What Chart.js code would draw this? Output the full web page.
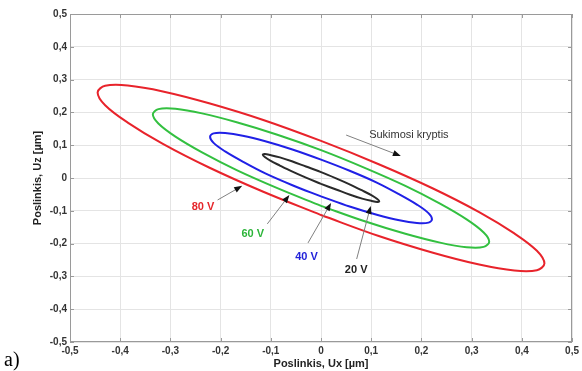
<!DOCTYPE html>
<html><head><meta charset="utf-8">
<script src="https://cdn.jsdelivr.net/npm/chart.js@4/dist/chart.umd.min.js"></script>
<style>html,body{margin:0;padding:0;background:#fff;}#wrap{width:582px;height:371px;position:relative;}</style>
</head><body><div id="wrap"><canvas id="c" width="582" height="371"></canvas></div>
<script>
// ---- data ----
const xTicks = [-0.5,-0.4,-0.3,-0.2,-0.1,0,0.1,0.2,0.3,0.4,0.5];
const xTickLabels = ['-0,5','-0,4','-0,3','-0,2','-0,1','0','0,1','0,2','0,3','0,4','0,5'];
const yTicks = [-0.5,-0.4,-0.3,-0.2,-0.1,0,0.1,0.2,0.3,0.4,0.5];
const yTickLabels = ['-0,5','-0,4','-0,3','-0,2','-0,1','0','0,1','0,2','0,3','0,4','0,5'];
const seriesNames = ['80 V','60 V','40 V','20 V'];

const redX = [0,-0.115,-0.223,-0.315,-0.385,-0.430,-0.445,-0.430,-0.385,-0.315,-0.223,-0.115,0,0.115,0.223,0.315,0.385,0.430,0.445,0.430,0.385,0.315,0.223,0.115,0];
const redY = [-0.113,-0.042,0.032,0.104,0.169,0.222,0.261,0.281,0.282,0.264,0.228,0.177,0.113,0.042,-0.032,-0.104,-0.169,-0.222,-0.261,-0.281,-0.282,-0.264,-0.228,-0.177,-0.113];
const greenX = [0,-0.087,-0.168,-0.237,-0.290,-0.324,-0.335,-0.324,-0.290,-0.237,-0.168,-0.087,0,0.087,0.168,0.237,0.290,0.324,0.335,0.324,0.290,0.237,0.168,0.087,0];
const greenY = [-0.085,-0.031,0.024,0.078,0.126,0.166,0.194,0.210,0.211,0.197,0.170,0.132,0.085,0.031,-0.024,-0.078,-0.126,-0.166,-0.194,-0.210,-0.211,-0.197,-0.170,-0.132,-0.085];
const blueX = [0,-0.057,-0.111,-0.156,-0.191,-0.214,-0.221,-0.214,-0.191,-0.156,-0.111,-0.057,0,0.057,0.111,0.156,0.191,0.214,0.221,0.214,0.191,0.156,0.111,0.057,0];
const blueY = [-0.056,-0.022,0.014,0.050,0.081,0.107,0.126,0.136,0.137,0.129,0.112,0.087,0.056,0.022,-0.014,-0.050,-0.081,-0.107,-0.126,-0.136,-0.137,-0.129,-0.112,-0.087,-0.056];
const blackX = [0,-0.030,-0.058,-0.082,-0.101,-0.112,-0.116,-0.112,-0.101,-0.082,-0.058,-0.030,0,0.030,0.058,0.082,0.101,0.112,0.116,0.112,0.101,0.082,0.058,0.030,0];
const blackY = [-0.018,0.001,0.020,0.038,0.053,0.064,0.071,0.073,0.070,0.063,0.051,0.035,0.018,-0.001,-0.020,-0.038,-0.053,-0.064,-0.071,-0.073,-0.070,-0.063,-0.051,-0.035,-0.018];

// callouts (data coordinates)
const calloutText = ['80 V','60 V','40 V','20 V'];
const calloutX = [-0.235,-0.136,-0.029,0.070];
const calloutY = [-0.088,-0.171,-0.241,-0.280];
const arrowFromX = [-0.206,-0.107,-0.026,0.071];
const arrowFromY = [-0.067,-0.140,-0.198,-0.247];
const arrowToX = [-0.157,-0.063,0.020,0.099];
const arrowToY = [-0.024,-0.052,-0.076,-0.085];
const dirText = 'Sukimosi kryptis';
const dirTextX = 0.175, dirTextY = 0.131;
const dirFromX = 0.050, dirFromY = 0.131, dirToX = 0.159, dirToY = 0.067;

const colors = ['#e8232b','#33c040','#2020e6','#2a2a2a'];
const labelColors = ['#e5262b','#2db53a','#2323d9','#222222'];

const toPts = (xs, ys) => xs.map((v, i) => ({x: v, y: ys[i]}));
const seriesData = [toPts(redX, redY), toPts(greenX, greenY), toPts(blueX, blueY), toPts(blackX, blackY)];

const FONT = "'Liberation Sans', Arial, sans-serif";

function arrow(ctx, x1, y1, x2, y2) {
  ctx.strokeStyle = '#808080'; ctx.lineWidth = 1;
  const ang = Math.atan2(y2 - y1, x2 - x1);
  const L = 8, W = 3;
  ctx.beginPath(); ctx.moveTo(x1, y1); ctx.lineTo(x2 - Math.cos(ang) * L * 0.7, y2 - Math.sin(ang) * L * 0.7); ctx.stroke();
  ctx.fillStyle = '#111';
  ctx.beginPath();
  ctx.moveTo(x2, y2);
  ctx.lineTo(x2 - Math.cos(ang) * L - Math.sin(ang) * W, y2 - Math.sin(ang) * L + Math.cos(ang) * W);
  ctx.lineTo(x2 - Math.cos(ang) * L + Math.sin(ang) * W, y2 - Math.sin(ang) * L - Math.cos(ang) * W);
  ctx.closePath(); ctx.fill();
}

const annot = {
  id: 'annot',
  afterDatasetsDraw(chart) {
    const {ctx, chartArea: a, scales: {x, y}} = chart;
    ctx.save();
    ctx.strokeStyle = '#9a9a9a'; ctx.lineWidth = 1;
    ctx.strokeRect(Math.round(a.left) + 0.5, Math.round(a.top) + 0.5, Math.round(a.right - a.left) - 1, Math.round(a.bottom - a.top) - 1);
    ctx.beginPath();
    xTicks.forEach(v => {
      const px = Math.round(x.getPixelForValue(v)) + 0.5;
      ctx.moveTo(px, a.top); ctx.lineTo(px, a.top + 4);
      ctx.moveTo(px, a.bottom); ctx.lineTo(px, a.bottom - 4);
    });
    yTicks.forEach(v => {
      const py = Math.round(y.getPixelForValue(v)) + 0.5;
      ctx.moveTo(a.left, py); ctx.lineTo(a.left + 4, py);
      ctx.moveTo(a.right, py); ctx.lineTo(a.right - 4, py);
    });
    ctx.stroke();
    // callouts
    for (let i = 0; i < calloutText.length; i++) {
      arrow(ctx, x.getPixelForValue(arrowFromX[i]), y.getPixelForValue(arrowFromY[i]), x.getPixelForValue(arrowToX[i]), y.getPixelForValue(arrowToY[i]));
      ctx.fillStyle = labelColors[i];
      ctx.font = 'bold 11px ' + FONT;
      ctx.textAlign = 'center'; ctx.textBaseline = 'middle';
      ctx.fillText(calloutText[i], x.getPixelForValue(calloutX[i]), y.getPixelForValue(calloutY[i]));
    }
    arrow(ctx, x.getPixelForValue(dirFromX), y.getPixelForValue(dirFromY), x.getPixelForValue(dirToX), y.getPixelForValue(dirToY));
    ctx.fillStyle = '#333';
    ctx.font = '11px ' + FONT;
    ctx.textAlign = 'center'; ctx.textBaseline = 'middle';
    ctx.fillText(dirText, x.getPixelForValue(dirTextX), y.getPixelForValue(dirTextY));
    // panel label
    ctx.fillStyle = '#000';
    ctx.font = "20px 'Liberation Serif', 'Times New Roman', serif";
    ctx.textAlign = 'left'; ctx.textBaseline = 'alphabetic';
    ctx.fillText('a)', 4, 366);
    ctx.restore();
  }
};

new Chart(document.getElementById('c'), {
  type: 'scatter',
  data: {
    datasets: seriesData.map((d, i) => ({
      label: seriesNames[i], data: d, showLine: true, borderColor: colors[i], backgroundColor: colors[i],
      borderWidth: 2, pointRadius: 0, tension: 0.35, fill: false
    }))
  },
  options: {
    responsive: false, animation: false, devicePixelRatio: 1,
    layout: {padding: {left: 31, right: 8, top: 14, bottom: 0}},
    plugins: {legend: {display: false}, tooltip: {enabled: false}},
    scales: {
      x: {
        type: 'linear', min: -0.5, max: 0.5,
        afterBuildTicks: s => { s.ticks = xTicks.map(v => ({value: v})); },
        afterFit: s => { s.height = 29; },
        ticks: {callback: (v, i) => xTickLabels[i], font: {family: FONT, size: 10, weight: 'bold'}, color: '#333', padding: 3, maxRotation: 0, autoSkip: false},
        grid: {color: '#e4e4e4', drawTicks: false},
        border: {display: false},
        title: {display: true, text: 'Poslinkis, Ux [µm]', font: {family: FONT, size: 11, weight: 'bold'}, color: '#222', padding: {top: 0, bottom: 0}}
      },
      y: {
        type: 'linear', min: -0.5, max: 0.5,
        afterBuildTicks: s => { s.ticks = yTicks.map(v => ({value: v})); },
        afterFit: s => { s.width = 39; },
        ticks: {callback: (v, i) => yTickLabels[i], font: {family: FONT, size: 10, weight: 'bold'}, color: '#333', padding: 3, autoSkip: false},
        grid: {color: '#e4e4e4', drawTicks: false},
        border: {display: false},
        title: {display: true, text: 'Poslinkis, Uz [µm]', font: {family: FONT, size: 11, weight: 'bold'}, color: '#222', padding: {top: 0, bottom: 0}}
      }
    }
  },
  plugins: [annot]
});
</script>
</body></html>
